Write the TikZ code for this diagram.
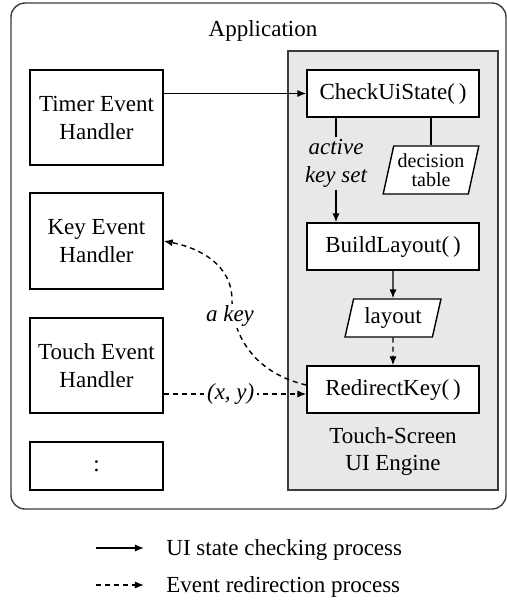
\documentclass[tikz,border=0pt]{standalone}
\usepackage{fontspec}
\setmainfont{Liberation Serif}
\usetikzlibrary{shapes.geometric,arrows.meta}
\definecolor{enginegray}{RGB}{232,232,232}
\definecolor{framegray}{RGB}{60,60,60}
\begin{document}
\begin{tikzpicture}[x=0.5pt,y=-0.5pt,
  font=\fontsize{11.5}{14}\selectfont,
  box/.style={draw, line width=0.7pt, align=center, inner sep=1pt, fill=white},
  para/.style={draw, line width=0.7pt, align=center, trapezium, trapezium left angle=75, trapezium right angle=105, trapezium stretches=true, fill=white, inner sep=1pt},
  solidarrow/.style={line width=0.7pt, -{Latex[length=4.5pt,width=3.6pt]}},
  dasharrow/.style={solidarrow, dash pattern=on 2.5pt off 2pt},
  lbl/.style={font=\fontsize{11.5}{14}\selectfont\itshape, inner sep=1pt, align=center}
]
\useasboundingbox (0,0) rectangle (507,602);
% frames
\draw[framegray, line width=0.7pt, rounded corners=7pt] (11,3) rectangle (506,509);
\node (app) at (263,31) {Application};
\node[draw=framegray, line width=0.7pt, fill=enginegray, minimum width=105pt, minimum height=219.5pt, inner sep=0pt] (engine) at (393,270.5) {};
% handlers
\node[box, minimum width=66.5pt, minimum height=47.5pt] (timer) at (96.5,117.5) {Timer Event\\Handler};
\node[box, minimum width=66.5pt, minimum height=48pt] (key) at (96.5,241) {Key Event\\Handler};
\node[box, minimum width=66.5pt, minimum height=47.5pt] (touch) at (96.5,365.5) {Touch Event\\Handler};
\node[box, minimum width=66.5pt, minimum height=24pt] (dots) at (96.5,466) {:};
% engine
\node[box, minimum width=86pt, minimum height=23.5pt] (check) at (393,93.5) {CheckUiState(\,)};
\node[box, minimum width=86pt, minimum height=23.5pt] (build) at (393,246.5) {BuildLayout(\,)};
\node[box, minimum width=86pt, minimum height=23.5pt] (redirect) at (393,389.5) {RedirectKey(\,)};
\node[para, minimum width=48pt, minimum height=24pt, font=\fontsize{10}{9.5}\selectfont] (dtable) at (431,170) {decision\\table};
\node[para, minimum width=48pt, minimum height=19pt] (layout) at (393,318) {layout};
\node[lbl] (aks) at (336,163) {active\\key set};
\node[align=center, font=\fontsize{11.5}{13.5}\selectfont] (tsui) at (393,451) {Touch-Screen\\UI Engine};
% connectors
\draw[solidarrow] (timer.east |- check.west) -- (check.west);
\draw[line width=0.7pt] (aks.north |- check.south) -- (aks.north);
\draw[solidarrow] (aks.south) -- (aks.south |- build.north);
\draw[line width=0.7pt] (dtable.north |- check.south) -- (dtable.north);
\draw[solidarrow] (build.south) -- (layout.north);
\draw[dasharrow] (layout.south) -- (redirect.north);
\coordinate (touchout) at ([yshift=-2.25pt]touch.east |- redirect.west);
\coordinate (redin) at ([yshift=-2.25pt]redirect.west);
\draw[dasharrow] (touchout) -- node[lbl, fill=white, inner sep=1.5pt, pos=0.47] {(x, y)} (redin);
\coordinate (redout) at ([yshift=2.25pt]redirect.west);
\draw[dasharrow] (redout) .. controls (250,372) and (232,330) .. (232,300)
   .. controls (232,265) and (200,248) .. (key.east);
\node[lbl, fill=white] (akey) at (230,316) {a key};
% legend
\coordinate (l1a) at (96,548); \coordinate (l1b) at (144,548);
\coordinate (l2a) at (96,585); \coordinate (l2b) at (144,585);
\draw[solidarrow] (l1a) -- (l1b);
\draw[dasharrow] (l2a) -- (l2b);
\node[anchor=west, inner sep=0pt] (leg1) at (166,550) {UI state checking process};
\node[anchor=west, inner sep=0pt] (leg2) at (166,587) {Event redirection process};
\end{tikzpicture}
\end{document}
